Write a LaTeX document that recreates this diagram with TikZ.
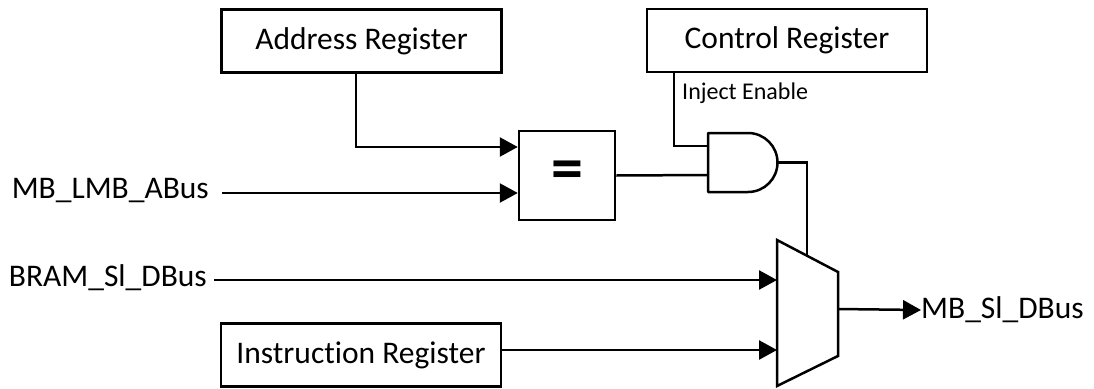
\documentclass[tikz,border=0pt]{standalone}
\usepackage{fontspec}
\setmainfont[Ligatures={NoCommon}]{Carlito}
\usetikzlibrary{arrows.meta}
\tikzset{
  reg/.style={draw, line width=2.5pt, minimum width=280pt, minimum height=63pt, inner sep=0pt, font=\fontsize{31.5}{36}\selectfont},
  wire/.style={line width=2.5pt},
  arr/.style={wire, -{Triangle[length=18pt,width=19pt]}},
  lbl/.style={inner sep=0pt, font=\fontsize{31.5}{36}\selectfont},
}
\begin{document}
\begin{tikzpicture}[x=1pt,y=-1pt]
\useasboundingbox (0,0) rectangle (1094,388);
% boxes
\node[reg] (addr) at (361.5,41) {Address Register};
\node[reg] (ctrl) at (787,40.5) {Control Register};
\node[reg] (instr) at (361,355) {Instruction Register};
\node[draw, line width=2.5pt, minimum width=96pt, minimum height=89pt, inner sep=0pt, font=\fontsize{64}{68}\selectfont\bfseries] (eq) at (567,175.5) {=};
% AND gate
\coordinate (andA) at (708,146);
\coordinate (andB) at (708,175);
\coordinate (andO) at (777.5,162.5);
\draw[wire, line join=round] (748,133) -- (708,133) -- (708,192) -- (748,192) arc[start angle=90, end angle=-90, radius=29.5];
% MUX
\draw[wire, line join=miter] (777,240) -- (838,272) -- (838,356) -- (777,386) -- cycle;
\coordinate (muxA) at (777,280);
\coordinate (muxB) at (777,350);
\coordinate (muxS) at (807,255.7);
\coordinate (muxO) at (838,309);
% labels
\node[lbl, anchor=east] (lmb) at (209,191) {MB\_LMB\_ABus};
\node[lbl, anchor=east] (bram) at (207,278) {BRAM\_Sl\_DBus};
\node[lbl, anchor=west] (out) at (921,310) {MB\_Sl\_DBus};
\node[inner sep=0pt, anchor=west, font=\fontsize{24}{28}\selectfont] (inj) at (682,93) {Inject Enable};
% connectors
\coordinate (lmbS) at (222,193);
\coordinate (bramS) at (214,280);
\draw[arr] (addr.south -| 356,0) |- (eq.west |- 0,147);
\draw[arr] (lmbS) -- (eq.west |- lmbS);
\draw[wire] (eq.east) -- (andB);
\draw[wire] (ctrl.south -| 674,0) |- (andA);
\draw[wire] (andO) -- (807,162.5) -- (muxS);
\draw[arr] (bramS) -- (muxA);
\draw[arr] (instr.east |- muxB) -- (muxB);
\draw[arr] (muxO) -- (out.west);
\end{tikzpicture}
\end{document}
